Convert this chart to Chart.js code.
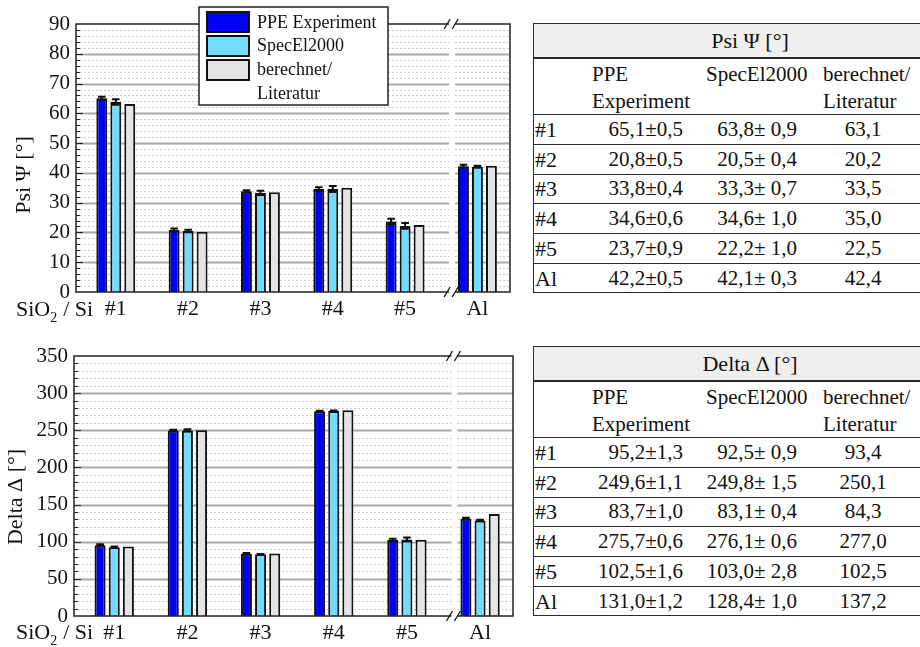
<!DOCTYPE html>
<html>
<head>
<meta charset="utf-8">
<script src="https://cdn.jsdelivr.net/npm/chart.js@4.4.0/dist/chart.umd.min.js"></script>
<style>
html, body { margin: 0; padding: 0; background: #fff; overflow: hidden; }
body { width: 920px; height: 647px; position: relative; font-family: "Liberation Serif", "DejaVu Serif", serif; color: #111; }
canvas { position: absolute; left: 0; }
.tbl { position: absolute; left: 533px; width: 400px; height: 270px; }
.tbl div { position: absolute; white-space: nowrap; font-size: 21px; }
</style>
</head>
<body>
<canvas id="psiChart" width="530" height="330" style="top:0"></canvas>
<canvas id="deltaChart" width="530" height="317" style="top:330px"></canvas>
<div id="psiTable" class="tbl" style="top:24px"></div>
<div id="deltaTable" class="tbl" style="top:347px"></div>
<script>
// --- DATEN ---
const labels = ['#1', '#2', '#3', '#4', '#5', 'Al'];
const legendLines = [['PPE Experiment'], ['SpecEl2000'], ['berechnet/', 'Literatur']];
const colors = ['#0000f8', '#72dcff', '#e4e4e4'];

const psiPPE = [65.1, 20.8, 33.8, 34.6, 23.7, 42.2];
const psiPPEErr = [0.5, 0.5, 0.4, 0.6, 0.9, 0.5];
const psiSpec = [63.8, 20.5, 33.3, 34.6, 22.2, 42.1];
const psiSpecErr = [0.9, 0.4, 0.7, 1.0, 1.0, 0.3];
const psiCalc = [63.1, 20.2, 33.5, 35.0, 22.5, 42.4];

const deltaPPE = [95.2, 249.6, 83.7, 275.7, 102.5, 131.0];
const deltaPPEErr = [1.3, 1.1, 1.0, 0.6, 1.6, 1.2];
const deltaSpec = [92.5, 249.8, 83.1, 276.1, 103.0, 128.4];
const deltaSpecErr = [0.9, 1.5, 0.4, 0.6, 2.8, 1.0];
const deltaCalc = [93.4, 250.1, 84.3, 277.0, 102.5, 137.2];

const SERIF = '"Liberation Serif", "DejaVu Serif", serif';

// --- PLUGIN: Gitter, Rahmen, Fehlerbalken, Achsenbruch ---
const decorPlugin = {
    id: 'decor',
    beforeDatasetsDraw(chart, args, o) {
        const ctx = chart.ctx, a = chart.chartArea;
        const y = chart.scales.y, x = chart.scales.x;
        const xb = x.getPixelForValue(o.breakAt);
        ctx.save();
        for (let v = o.minor; v < o.max; v += o.minor) {
            const py = Math.round(y.getPixelForValue(v)) + 0.5;
            const major = Math.abs(v % o.major) < 1e-6;
            ctx.beginPath();
            if (major) {
                ctx.strokeStyle = '#a9a9a9'; ctx.lineWidth = 2; ctx.setLineDash([]);
            } else {
                ctx.strokeStyle = '#c9c9c9'; ctx.lineWidth = 1; ctx.setLineDash([2, 2]);
            }
            ctx.moveTo(a.left, py); ctx.lineTo(xb - 3, py);
            ctx.moveTo(xb + 3, py); ctx.lineTo(a.right, py);
            ctx.stroke();
            // kleine Striche am linken Rand
            ctx.setLineDash([]);
            ctx.strokeStyle = '#222'; ctx.lineWidth = 1;
            ctx.beginPath(); ctx.moveTo(a.left, py); ctx.lineTo(a.left + (major ? 7 : 4), py); ctx.stroke();
        }
        ctx.restore();
    },
    afterDatasetsDraw(chart, args, o) {
        const ctx = chart.ctx, a = chart.chartArea;
        const y = chart.scales.y, x = chart.scales.x;
        ctx.save();
        // Fehlerbalken
        chart.data.datasets.forEach((ds, i) => {
            if (!ds.errors) return;
            chart.getDatasetMeta(i).data.forEach((bar, j) => {
                const v = ds.data[j].y, e = ds.errors[j];
                const t = y.getPixelForValue(v + e), b = y.getPixelForValue(v - e);
                const hw = bar.width * 0.35;
                ctx.strokeStyle = '#111'; ctx.lineWidth = 2;
                ctx.beginPath();
                ctx.moveTo(bar.x, t); ctx.lineTo(bar.x, b);
                ctx.moveTo(bar.x - hw, t); ctx.lineTo(bar.x + hw, t);
                ctx.moveTo(bar.x - hw, b); ctx.lineTo(bar.x + hw, b);
                ctx.stroke();
            });
        });
        // Rahmen
        ctx.strokeStyle = '#222'; ctx.lineWidth = 1.5;
        ctx.strokeRect(a.left, a.top, a.right - a.left, a.bottom - a.top);
        // Achsenbruch
        const xb = x.getPixelForValue(o.breakAt);
        [a.top, a.bottom].forEach(py => {
            ctx.fillStyle = '#fff';
            ctx.fillRect(xb - 3, py - 2, 6, 4);
            ctx.strokeStyle = '#111'; ctx.lineWidth = 1.3;
            ctx.beginPath();
            ctx.moveTo(xb - 8, py + 5); ctx.lineTo(xb - 2, py - 5);
            ctx.moveTo(xb, py + 5); ctx.lineTo(xb + 6, py - 5);
            ctx.stroke();
        });
        // Achsentitel
        ctx.fillStyle = '#111';
        ctx.font = '22px ' + SERIF;
        ctx.textAlign = 'center'; ctx.textBaseline = 'middle';
        ctx.save();
        ctx.translate(o.titleX, (a.top + a.bottom) / 2 + o.titleDy);
        ctx.rotate(-Math.PI / 2);
        ctx.fillText(o.title, 0, 0);
        ctx.restore();
        // SiO2 / Si
        ctx.textAlign = 'left'; ctx.textBaseline = 'alphabetic';
        let px = 16;
        ctx.font = '22px ' + SERIF;
        ctx.fillText('SiO', px, o.subBase); px += ctx.measureText('SiO').width;
        ctx.font = '14px ' + SERIF;
        ctx.fillText('2', px, o.subBase + 6); px += ctx.measureText('2').width + 6;
        ctx.font = '22px ' + SERIF;
        ctx.fillText('/ Si', px, o.subBase);
        // Legende
        if (o.legend) {
            ctx.fillStyle = '#fff';
            ctx.fillRect(199, 7, 189, 98);
            ctx.strokeStyle = '#222'; ctx.lineWidth = 1.5;
            ctx.strokeRect(199, 7, 189, 98);
            ctx.font = '18px ' + SERIF;
            ctx.textBaseline = 'middle';
            let row = 0;
            legendLines.forEach((lines, i) => {
                const sy = 12 + i * 24;
                ctx.fillStyle = colors[i];
                ctx.fillRect(207, sy, 42, 20);
                ctx.strokeStyle = '#111'; ctx.lineWidth = 2;
                ctx.strokeRect(207, sy, 42, 20);
                lines.forEach(t => {
                    ctx.fillStyle = '#111';
                    ctx.fillText(t, 257, 23 + row * 23.7);
                    row++;
                });
            });
        }
        ctx.restore();
    }
};

function makeChart(id, series, opt) {
    const canvas = document.getElementById(id);
    const datasets = series.map((s, i) => ({
        label: legendLines[i].join(''),
        data: s.values.map((v, j) => ({ x: j, y: v })),
        errors: s.errors,
        backgroundColor: colors[i],
        borderColor: '#111',
        borderWidth: 2,
        borderSkipped: 'start',
        categoryPercentage: 0.58,
        barPercentage: 0.78
    }));
    return new Chart(canvas, {
        type: 'bar',
        data: { datasets },
        plugins: [decorPlugin],
        options: {
            responsive: false,
            animation: false,
            events: [],
            layout: { padding: { left: 0, top: opt.top, right: canvas.width - opt.right, bottom: 0 } },
            plugins: {
                legend: { display: false },
                tooltip: { enabled: false },
                decor: opt.decor
            },
            scales: {
                x: {
                    type: 'linear', min: -0.55, max: 5.45, offset: false,
                    afterBuildTicks: sc => { sc.ticks = labels.map((_, i) => ({ value: i })); },
                    afterFit: sc => { sc.height = canvas.height - opt.bottom; },
                    grid: { display: false, drawTicks: false },
                    border: { display: false },
                    ticks: {
                        padding: 4, color: '#111', maxRotation: 0, autoSkip: false,
                        font: { family: SERIF, size: 22 },
                        callback: v => labels[v] ?? ''
                    }
                },
                y: {
                    min: 0, max: opt.decor.max,
                    afterFit: sc => { sc.width = opt.left; },
                    grid: { display: false, drawTicks: false },
                    border: { display: false },
                    ticks: {
                        stepSize: opt.decor.major, padding: 6, color: '#111',
                        font: { family: SERIF, size: 21 }
                    }
                }
            }
        }
    });
}

makeChart('psiChart', [
    { values: psiPPE, errors: psiPPEErr },
    { values: psiSpec, errors: psiSpecErr },
    { values: psiCalc }
], {
    left: 76, right: 510, top: 24, bottom: 292,
    decor: { max: 90, major: 10, minor: 2, breakAt: 4.65, title: 'Psi Ψ [°]', titleX: 24, titleDy: 17, subBase: 316, legend: true }
});

makeChart('deltaChart', [
    { values: deltaPPE, errors: deltaPPEErr },
    { values: deltaSpec, errors: deltaSpecErr },
    { values: deltaCalc }
], {
    left: 74, right: 513, top: 26, bottom: 286,
    decor: { max: 350, major: 50, minor: 10, breakAt: 4.65, title: 'Delta Δ [°]', titleX: 16, titleDy: 11, subBase: 309, legend: false }
});

// --- TABELLEN ---
const fmt = v => v.toFixed(1).replace('.', ',');

function buildTable(id, title, ppe, ppeErr, spec, specErr, calc) {
    const el = document.getElementById(id);
    const headH = 33.5, colH = 57.5, rowH = 29.7;
    const add = (css, text) => {
        const d = document.createElement('div');
        d.style.cssText = css;
        if (text !== undefined) d.textContent = text;
        el.appendChild(d);
        return d;
    };
    add(`left:0;top:0;right:0;height:${headH}px;background:#efefef;`);
    add(`left:0;top:0;width:0;height:${headH + colH + rowH * 6}px;border-left:1.5px solid #2a2a2a;`);
    add(`left:17px;top:0;width:400px;line-height:${headH}px;text-align:center;font-size:22px;`, title);
    add(`left:59px;top:${headH + 3}px;line-height:27px;`, 'PPE');
    add(`left:59px;top:${headH + 30}px;line-height:27px;`, 'Experiment');
    add(`left:173px;top:${headH + 3}px;line-height:27px;`, 'SpecEl2000');
    add(`left:290px;top:${headH + 3}px;line-height:27px;`, 'berechnet/');
    add(`left:290px;top:${headH + 30}px;line-height:27px;`, 'Literatur');
    const lines = [0, headH, headH + colH];
    labels.forEach((lab, i) => {
        const top = headH + colH + rowH * i;
        lines.push(top + rowH);
        add(`left:2px;top:${top}px;line-height:${rowH}px;font-size:22px;`, lab);
        add(`right:250px;top:${top}px;line-height:${rowH}px;text-align:right;`, `${fmt(ppe[i])}±${fmt(ppeErr[i])}`);
        add(`right:136px;top:${top}px;line-height:${rowH}px;text-align:right;`, `${fmt(spec[i])}± ${fmt(specErr[i])}`);
        add(`left:290px;width:80px;top:${top}px;line-height:${rowH}px;text-align:center;`, fmt(calc[i]));
    });
    lines.forEach((t, k) => {
        add(`left:0;right:0;height:0;top:${t - 0.75}px;border-top:${k === 1 ? 2 : 1.5}px solid #2a2a2a;`);
    });
}

buildTable('psiTable', 'Psi Ψ [°]', psiPPE, psiPPEErr, psiSpec, psiSpecErr, psiCalc);
buildTable('deltaTable', 'Delta Δ [°]', deltaPPE, deltaPPEErr, deltaSpec, deltaSpecErr, deltaCalc);
</script>
</body>
</html>
